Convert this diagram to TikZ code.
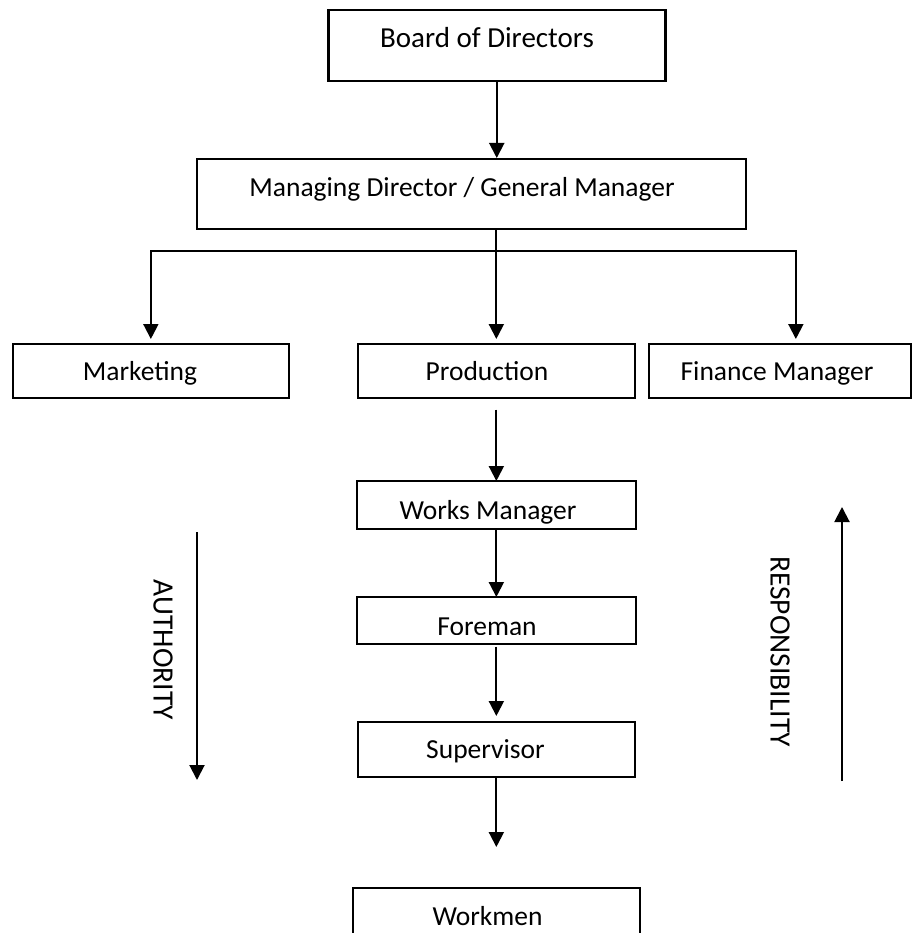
\documentclass[tikz,border=0pt]{standalone}
\usepackage{fontspec}
\setmainfont{Carlito}
\usetikzlibrary{arrows.meta}
\begin{document}
\begin{tikzpicture}[x=1pt,y=-1pt,
  box/.style={draw, line width=1.7pt, inner sep=0pt, anchor=north west, fill=white},
  txt/.style={inner sep=0pt, font=\fontsize{27.5}{32}\selectfont},
  lbl/.style={inner sep=0pt, font=\fontsize{29.5}{34}\selectfont, rotate=-90},
  arr/.style={line width=2pt, -{Triangle[width=15pt,length=15pt]}},
  ln/.style={line width=2pt}]
\clip (0,0) rectangle (914,933);
\fill[white] (0,0) rectangle (914,933);
% boxes
\node[box, line width=2.5pt, minimum width=337pt, minimum height=71pt] (bod) at (327,9) {};
\node[box, minimum width=549pt, minimum height=70pt] (md) at (196,158) {};
\node[box, minimum width=276pt, minimum height=54pt] (mkt) at (12,343) {};
\node[box, minimum width=277pt, minimum height=54pt] (prod) at (357,343) {};
\node[box, minimum width=262pt, minimum height=54pt] (fin) at (648,343) {};
\node[box, draw=none, minimum width=277pt, minimum height=46pt] (wm) at (357,481) {};
\node[box, draw=none, minimum width=277pt, minimum height=45pt] (fore) at (357,597) {};
\node[box, minimum width=277pt, minimum height=55pt] (sup) at (357,721) {};
\node[box, minimum width=287pt, minimum height=60pt] (work) at (352,887) {};
% texts
\node[txt, anchor=base, font=\fontsize{29}{34}\selectfont] (tbod) at (487,48) {Board of Directors};
\node[txt, anchor=base] (tmd) at (462,197) {Managing Director / General Manager};
\node[txt, anchor=base] (tmkt) at (140,380) {Marketing};
\node[txt, anchor=base] (tprod) at (487,380) {Production};
\node[txt, anchor=base] (tfin) at (777,380) {Finance Manager};
\begin{scope}
  \clip (wm.north west) rectangle (wm.south east);
  \node[txt, anchor=base] (twm) at (488,519) {Works Manager};
\end{scope}
\begin{scope}
  \clip (fore.north west) rectangle ([yshift=9pt]fore.south east);
  \node[txt, anchor=base] (tfore) at (487,635) {Foreman};
\end{scope}
\node[txt, anchor=base] (tsup) at (485.5,758) {Supervisor};
\node[txt, anchor=base] (twork) at (487.5,925) {Workmen};
% borders of clipped boxes
\draw[line width=1.7pt] (wm.north west) rectangle (wm.south east);
\draw[line width=1.7pt] (fore.north west) rectangle (fore.south east);
% connectors
\draw[arr] (bod.south) -- (bod.south |- md.north);
\draw[ln] (md.south -| prod.north) -- (prod.north |- 0,251);
\draw[arr, shorten >=4pt] (prod.north |- 0,251) -- (prod.north);
\draw[arr, shorten >=4pt, line join=miter] (prod.north |- 0,251) -| (mkt.north);
\draw[arr, shorten >=4pt, line join=miter] (prod.north |- 0,251) -| ([xshift=16pt]fin.north);
\draw[arr, shorten <=11pt] (prod.south) -- (wm.north);
\draw[arr, shorten <=1pt] (wm.south) -- (fore.north);
\draw[arr, shorten <=3pt, shorten >=5pt] (fore.south) -- (sup.north);
\draw[arr, shorten >=40pt] (sup.south) -- (work.north);
% authority / responsibility
\coordinate (a1) at (197,532);
\coordinate (a2) at (197,780);
\draw[arr] (a1) -- (a2);
\node[lbl] (tauth) at (163,650) {AUTHORITY};
\coordinate (r1) at (842,781);
\coordinate (r2) at (842,507);
\draw[arr] (r1) -- (r2);
\node[lbl] (tresp) at (780,651.5) {RESPONSIBILITY};
\end{tikzpicture}
\end{document}
